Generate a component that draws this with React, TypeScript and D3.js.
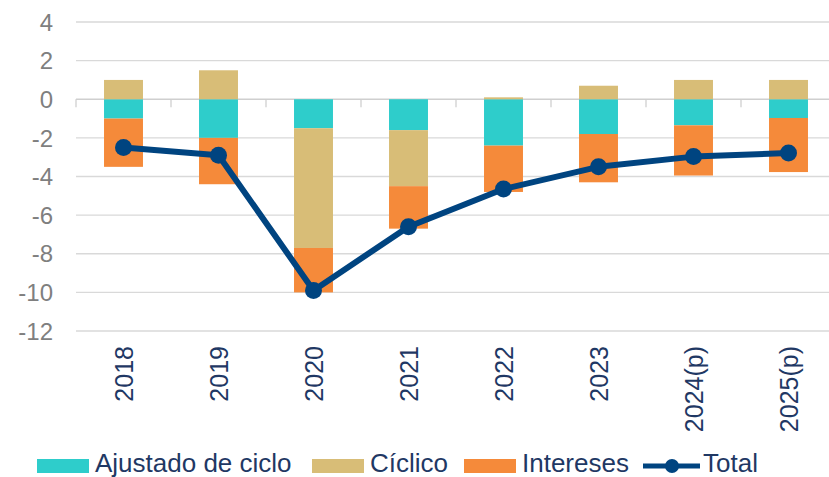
import React, { useEffect, useRef } from "react";
import * as d3 from "d3";

const years = ["2018", "2019", "2020", "2021", "2022", "2023", "2024(p)", "2025(p)"];
const ajustado = [-1.0, -2.0, -1.5, -1.6, -2.4, -1.8, -1.35, -0.97];
const ciclico = [1.0, 1.5, -6.2, -2.9, 0.1, 0.7, 1.0, 1.0];
const intereses = [-2.5, -2.4, -2.3, -2.2, -2.4, -2.5, -2.6, -2.8];
const total = [-2.5, -2.9, -9.9, -6.6, -4.65, -3.5, -2.97, -2.78];
const yTicks = [4, 2, 0, -2, -4, -6, -8, -10, -12];

const seriesNames = ["Ajustado de ciclo", "Cíclico", "Intereses"];
const colors = ["#2ECDCB", "#D8BD77", "#F58A3A"];
const lineColor = "#004480";
const labelColor = "#1F3864";

const W = 829;
const H = 477;

const App = () => {
  const ref = useRef<SVGSVGElement>(null);

  useEffect(() => {
    const svg = d3.select(ref.current);
    svg.selectAll("*").remove();

    const x = d3.scaleBand().domain(years).range([76, 836]).padding(0);
    const y = d3.scaleLinear().domain([-12, 4]).range([331, 22]);
    const barW = x.bandwidth() * 0.41;
    const cx = (d: string) => (x(d) as number) + x.bandwidth() / 2;

    // gridlines
    svg
      .append("g")
      .selectAll("line")
      .data(yTicks)
      .join("line")
      .attr("x1", 76)
      .attr("x2", 836)
      .attr("y1", (d) => y(d))
      .attr("y2", (d) => y(d))
      .attr("stroke", (d) => (d === 0 ? "#cfcfcf" : "#d9d9d9"))
      .attr("stroke-width", 1.3);

    // y labels
    svg
      .append("g")
      .selectAll("text")
      .data(yTicks)
      .join("text")
      .attr("x", 53)
      .attr("y", (d) => y(d))
      .attr("dy", "0.36em")
      .attr("text-anchor", "end")
      .attr("font-family", "Liberation Sans, Arial, sans-serif")
      .attr("font-size", 24)
      .attr("fill", "#7f7f7f")
      .text((d) => String(d));

    // stacked bars
    const table = years.map((yr, i) => ({
      year: yr,
      a: ajustado[i],
      c: ciclico[i],
      n: intereses[i],
    }));
    const stack = d3
      .stack<any>()
      .keys(["a", "c", "n"])
      .offset(d3.stackOffsetDiverging);
    const layers = stack(table);

    svg
      .append("g")
      .selectAll("g")
      .data(layers)
      .join("g")
      .attr("fill", (_, i) => colors[i])
      .selectAll("rect")
      .data((d) => d)
      .join("rect")
      .attr("x", (d) => cx(d.data.year) - barW / 2)
      .attr("width", barW)
      .attr("y", (d) => y(Math.max(d[0], d[1])))
      .attr("height", (d) => Math.abs(y(d[0]) - y(d[1])));

    // tick marks on the zero line
    svg
      .append("g")
      .selectAll("line")
      .data(d3.range(years.length + 1))
      .join("line")
      .attr("x1", (i) => 76 + i * x.step())
      .attr("x2", (i) => 76 + i * x.step())
      .attr("y1", y(0))
      .attr("y2", y(0) + 8)
      .attr("stroke", "#cfcfcf")
      .attr("stroke-width", 1.3);

    // total line
    const myLine = d3
      .line<number>()
      .x((_, i) => cx(years[i]))
      .y((d) => y(d));

    svg
      .append("path")
      .datum(total)
      .attr("d", myLine)
      .attr("fill", "none")
      .attr("stroke", lineColor)
      .attr("stroke-width", 6)
      .attr("stroke-linejoin", "round");

    svg
      .append("g")
      .selectAll("circle")
      .data(total)
      .join("circle")
      .attr("cx", (_, i) => cx(years[i]))
      .attr("cy", (d) => y(d))
      .attr("r", 8.5)
      .attr("fill", lineColor);

    // year labels
    svg
      .append("g")
      .selectAll("text")
      .data(years)
      .join("text")
      .attr("transform", (d) => `translate(${cx(d)},346) rotate(-90)`)
      .attr("dy", "0.36em")
      .attr("text-anchor", "end")
      .attr("font-family", "Liberation Sans, Arial, sans-serif")
      .attr("font-size", 25)
      .attr("fill", labelColor)
      .text((d) => d);

    // legend
    const legendX = [37, 312, 464];
    const lg = svg
      .append("g")
      .attr("font-family", "Liberation Sans, Arial, sans-serif")
      .attr("font-size", 26)
      .attr("fill", labelColor);
    seriesNames.forEach((name, i) => {
      lg.append("rect")
        .attr("x", legendX[i])
        .attr("y", 459)
        .attr("width", 52)
        .attr("height", 14)
        .attr("fill", colors[i]);
      lg.append("text")
        .attr("x", legendX[i] + 58)
        .attr("y", 472)
        .text(name);
    });
    lg.append("line")
      .attr("x1", 643)
      .attr("x2", 700)
      .attr("y1", 466)
      .attr("y2", 466)
      .attr("stroke", lineColor)
      .attr("stroke-width", 5);
    lg.append("circle").attr("cx", 672).attr("cy", 466).attr("r", 7).attr("fill", lineColor);
    lg.append("text").attr("x", 703).attr("y", 472).text("Total");
  }, []);

  return (
    <svg
      ref={ref}
      width={W}
      height={H}
      style={{ position: "absolute", left: 0, top: 0, background: "#fff" }}
    />
  );
};

export default App;
